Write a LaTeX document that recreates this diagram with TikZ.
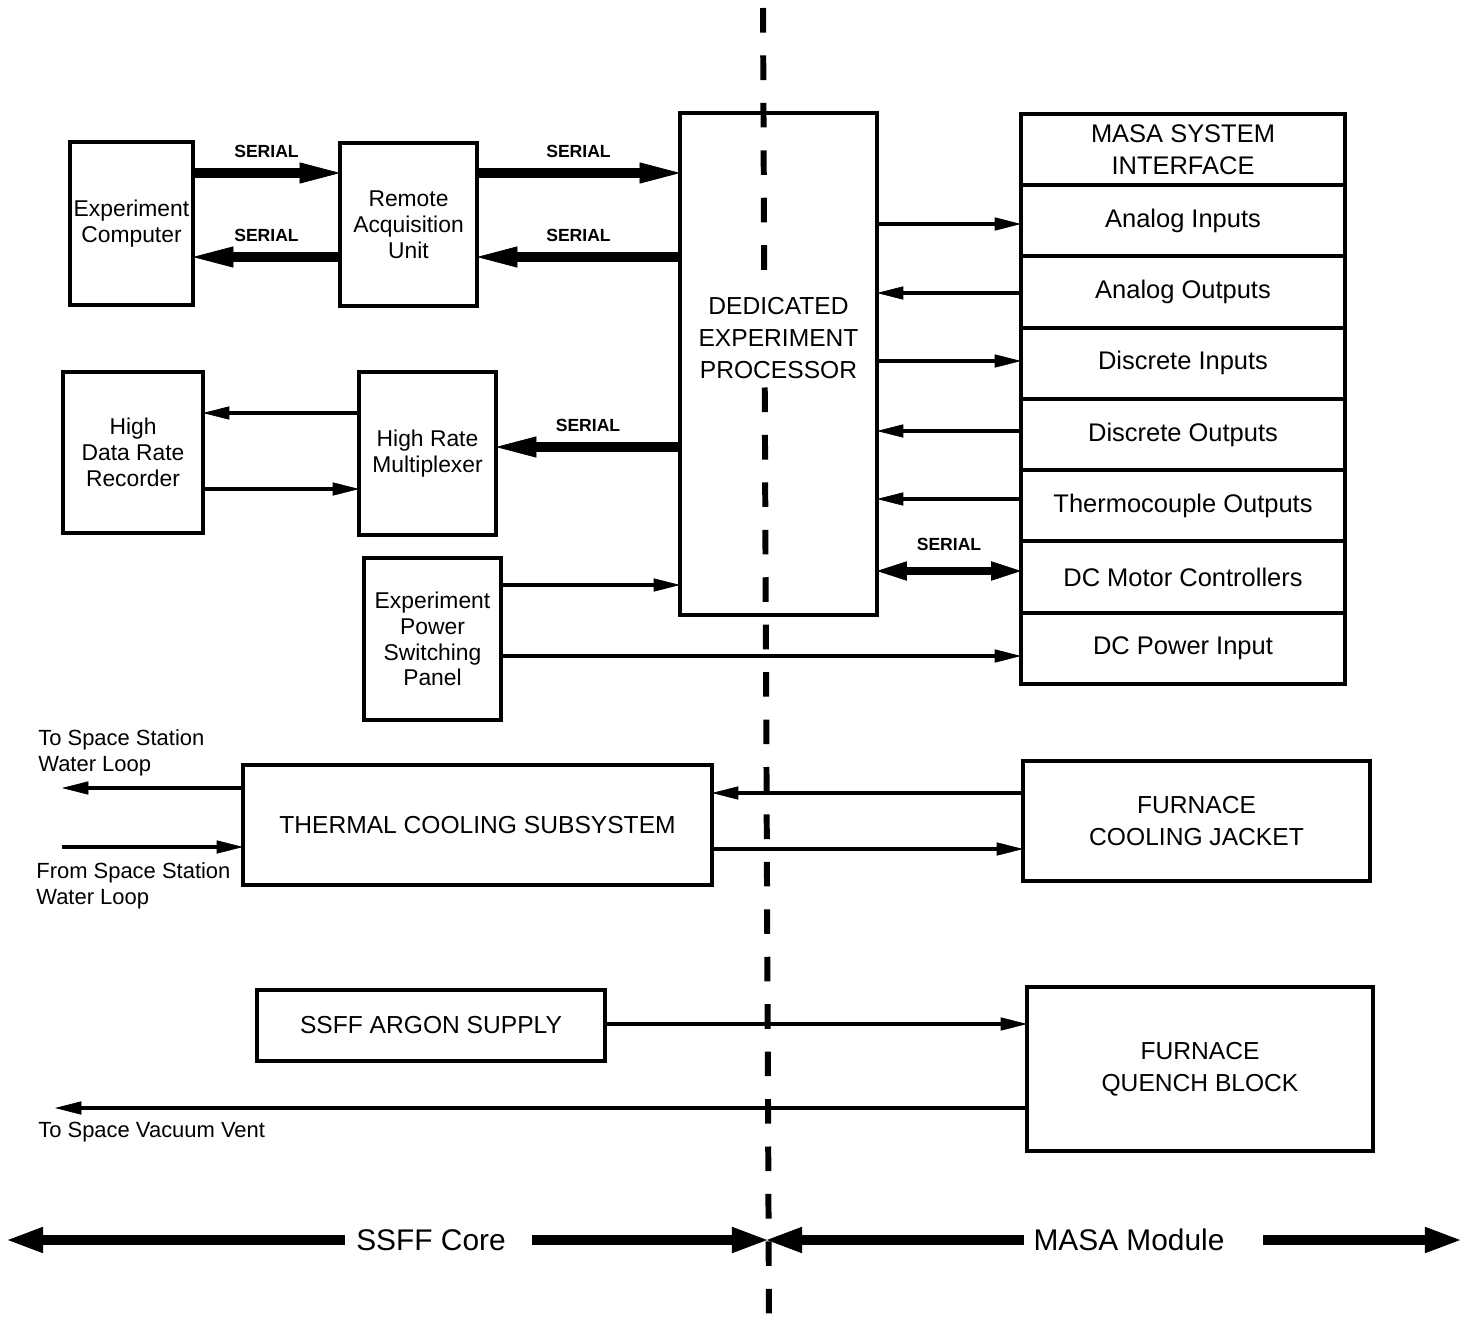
\documentclass[tikz,border=0pt]{standalone}
\usepackage{fontspec}
\setmainfont{Liberation Sans}
\usetikzlibrary{arrows.meta,positioning}

\tikzset{
	box/.style={draw, line width=2.3pt, inner sep=0pt, outer sep=0pt, align=center},
	bigtext/.style={font=\fontsize{14}{18}\selectfont},
	unittext/.style={font=\fontsize{13}{14.7}\selectfont},
	rowtext/.style={font=\fontsize{14.5}{18}\selectfont},
	serial/.style={font=\bfseries\fontsize{10}{12}\selectfont, inner sep=2pt},
	note/.style={font=\fontsize{12.5}{14.7}\selectfont, align=left, inner sep=0pt},
	zonetext/.style={font=\fontsize{17}{20}\selectfont, inner ysep=0pt},
	row/.style={box, rowtext, minimum width=6.48cm, minimum height=1.425cm},
	thinarrow/.style={line width=2.4pt, -{Triangle[length=15pt,width=7.5pt,line width=0.4pt]}},
	thickarrow/.style={line width=5.5pt, -{Triangle[length=23pt,width=12pt,line width=0.4pt]}},
	bothway/.style={line width=5pt, {Triangle[length=17pt,width=11pt,line width=0.4pt]}-{Triangle[length=17pt,width=11pt,line width=0.4pt]}},
	zonearrow/.style={line width=5.5pt, -{Triangle[length=20pt,width=15pt,line width=0.4pt]}},
	divider/.style={line width=3.4pt, dash pattern=on 14pt off 13pt}
}

\begin{document}
\begin{tikzpicture}[x=0.02cm,y=-0.02cm]
	\useasboundingbox (0,0) rectangle (1473,1321);
	% core / module boundary
	\draw [divider] (763,8) -- (769,1321);

	% SSFF core side
	\node [box, unittext, minimum width=2.46cm, minimum height=3.26cm] (expcomp) at (131.5,223.5) {Experiment\\Computer};
	\node [box, unittext, minimum width=2.74cm, minimum height=3.26cm] (rau) at (408.5,224.5) {Remote\\Acquisition\\Unit};
	\node [box, minimum width=3.94cm, minimum height=10.04cm,
		label={[name=deptext, bigtext, align=center, fill=white, inner sep=3pt, yshift=0.52cm]center:DEDICATED\\EXPERIMENT\\PROCESSOR}] (dep) at (778.5,364) {};
	\node [box, unittext, minimum width=2.8cm, minimum height=3.22cm] (hdr) at (133,452.5) {High\\Data Rate\\Recorder};
	\node [box, unittext, minimum width=2.74cm, minimum height=3.26cm] (hrm) at (427.5,453.5) {High Rate\\Multiplexer};
	\node [box, unittext, minimum width=2.74cm, minimum height=3.24cm] (epsp) at (432.5,639) {Experiment\\Power\\Switching\\Panel};
	\node [box, bigtext, minimum width=9.38cm, minimum height=2.4cm] (tcs) at (477.5,825) {THERMAL COOLING SUBSYSTEM};
	\node [box, bigtext, minimum width=6.96cm, minimum height=1.42cm] (argon) at (431,1025.5) {SSFF ARGON SUPPLY};

	% MASA module side
	\node [row] (masa) at (1183,149.6) {MASA SYSTEM\\INTERFACE};
	\node [row, below=0pt of masa] (ain) {Analog Inputs};
	\node [row, below=0pt of ain] (aout) {Analog Outputs};
	\node [row, below=0pt of aout] (din) {Discrete Inputs};
	\node [row, below=0pt of din] (dout) {Discrete Outputs};
	\node [row, below=0pt of dout] (tc) {Thermocouple Outputs};
	\node [row, below=0pt of tc] (dcm) {DC Motor Controllers};
	\node [row, below=0pt of dcm] (dcp) {DC Power Input};
	\node [box, bigtext, minimum width=6.94cm, minimum height=2.4cm] (fcj) at (1196.5,821) {FURNACE\\COOLING JACKET};
	\node [box, bigtext, minimum width=6.92cm, minimum height=3.28cm] (fqb) at (1200,1069) {FURNACE\\QUENCH BLOCK};

	% serial links
	\draw [thickarrow] (expcomp.east |- 0,173) -- (rau.west |- 0,173) node [serial, midway, above=4pt] (ser1) {SERIAL};
	\draw [thickarrow] (rau.west |- 0,257) -- (expcomp.east |- 0,257) node [serial, midway, above=4pt] (ser2) {SERIAL};
	\draw [thickarrow] (rau.east |- 0,173) -- (dep.west |- 0,173) node [serial, midway, above=4pt] (ser3) {SERIAL};
	\draw [thickarrow] (dep.west |- 0,257) -- (rau.east |- 0,257) node [serial, midway, above=4pt] (ser4) {SERIAL};
	\draw [thickarrow] (dep.west |- 0,447) -- (hrm.east |- 0,447) node [serial, midway, above=4pt] (ser5) {SERIAL};
	\draw [bothway] (dep.east |- 0,571) -- (dcm.west |- 0,571) node [serial, midway, above=7pt] (ser6) {SERIAL};

	% recorder and power
	\draw [thinarrow] (hrm.west |- 0,413) -- (hdr.east |- 0,413);
	\draw [thinarrow] (hdr.east |- 0,489) -- (hrm.west |- 0,489);
	\draw [thinarrow] (epsp.east |- 0,585) -- (dep.west |- 0,585);
	\draw [thinarrow] (epsp.east |- 0,656) -- (dcp.west |- 0,656);

	% interface signals
	\draw [thinarrow] (dep.east |- 0,224) -- (ain.west |- 0,224);
	\draw [thinarrow] (aout.west |- 0,293) -- (dep.east |- 0,293);
	\draw [thinarrow] (dep.east |- 0,361) -- (din.west |- 0,361);
	\draw [thinarrow] (dout.west |- 0,431) -- (dep.east |- 0,431);
	\draw [thinarrow] (tc.west |- 0,499) -- (dep.east |- 0,499);

	% cooling and gas
	\coordinate (tossloop) at (62,788);
	\coordinate (fromssloop) at (62,847);
	\coordinate (vacvent) at (55,1108);
	\draw [thinarrow] (tcs.west |- tossloop) -- (tossloop);
	\draw [thinarrow] (fromssloop) -- (tcs.west |- fromssloop);
	\draw [thinarrow] (fcj.west |- 0,793) -- (tcs.east |- 0,793);
	\draw [thinarrow] (tcs.east |- 0,849) -- (fcj.west |- 0,849);
	\draw [thinarrow] (argon.east |- 0,1024) -- (fqb.west |- 0,1024);
	\draw [thinarrow] (fqb.west |- vacvent) -- (vacvent);
	\node [note, anchor=west] (tosstext) at (38,753) {To Space Station\\Water Loop};
	\node [note, anchor=west] (fromsstext) at (36,886) {From Space Station\\Water Loop};
	\node [note, anchor=west] (venttext) at (38,1132) {To Space Vacuum Vent};

	% zones
	\node [zonetext, inner xsep=6pt] (core) at (431,1240) {SSFF Core};
	\node [zonetext, inner xsep=5pt] (module) at (1129,1240) {MASA Module};
	\coordinate (leftend) at (8,1240);
	\coordinate (rightend) at (1460,1240);
	\coordinate (midline) at (767,1240);
	\draw [zonearrow] (core.west) -- (leftend);
	\draw [zonearrow, shorten <=9pt] (core.east) -- (midline);
	\draw [zonearrow] (module.west) -- (midline);
	\draw [zonearrow, shorten <=17pt] (module.east) -- (rightend);
\end{tikzpicture}
\end{document}
